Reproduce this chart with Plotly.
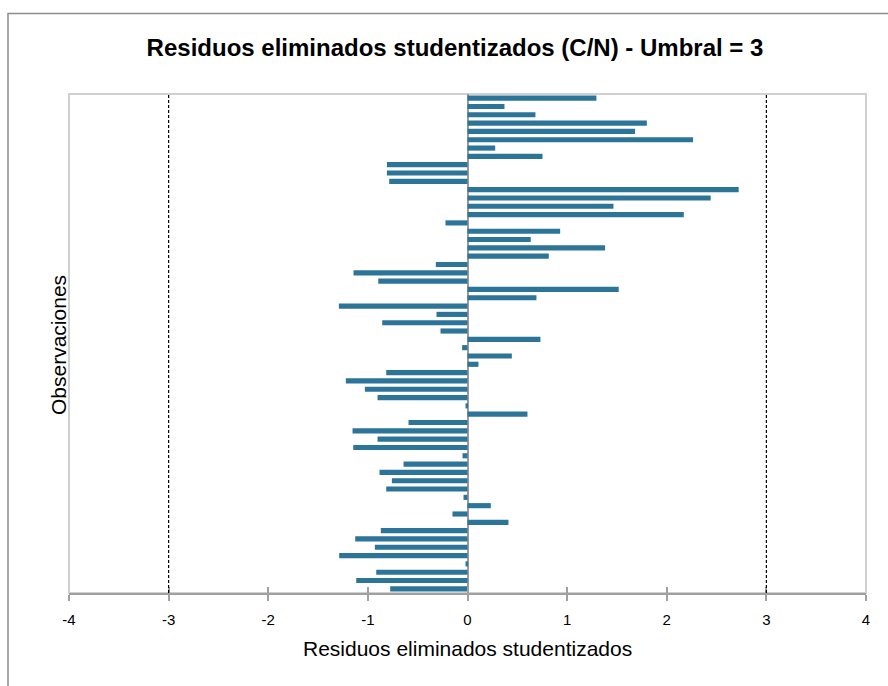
import plotly.graph_objects as go

# Studentized deleted residuals, observations in order top -> bottom
residuals = [
    1.294, 0.371, 0.682, 1.800, 1.682, 2.264, 0.278, 0.753, -0.809, -0.809,
    -0.786, 2.722, 2.441, 1.465, 2.171, -0.221, 0.930, 0.635, 1.381, 0.816,
    -0.318, -1.144, -0.896, 1.518, 0.692, -1.291, -0.311, -0.856, -0.271, 0.732,
    -0.054, 0.445, 0.110, -0.816, -1.221, -1.030, -0.903, -0.020, 0.602, -0.592,
    -1.154, -0.903, -1.147, -0.050, -0.642, -0.883, -0.759, -0.816, -0.040, 0.234,
    -0.151, 0.411, -0.870, -1.127, -0.930, -1.288, -0.020, -0.916, -1.117, -0.776,
]
observations = [f"Obs{i + 1}" for i in range(len(residuals))]
threshold = 3
x_ticks = [-4, -3, -2, -1, 0, 1, 2, 3, 4]

BAR_COLOR = "#2d7598"
FONT = "Liberation Sans, Arial"

W, H = 888, 686
L, R, T, B = 69, 22, 94, 93
PW, PH = W - L - R, H - T - B


def px_x(x):
    return (x - L) / PW


def px_y(y):
    return (H - B - y) / PH


fig = go.Figure()
fig.add_trace(go.Bar(
    x=residuals, y=observations, orientation="h",
    marker=dict(color=BAR_COLOR, line=dict(width=0)),
    hoverinfo="x+y", showlegend=False,
))
# invisible helper trace on overlay axis (for crossing tick marks)
fig.add_trace(go.Scatter(x=[x_ticks[0]], y=[observations[0]], xaxis="x2",
                         mode="markers", marker=dict(opacity=0), showlegend=False,
                         hoverinfo="skip"))

fig.update_layout(
    width=W, height=H,
    margin=dict(l=L, r=R, t=T, b=B, autoexpand=False),
    paper_bgcolor="white", plot_bgcolor="white",
    bargap=0.38,
    title=dict(
        text="<b>Residuos eliminados studentizados (C/N) - Umbral = 3</b>",
        x=455 / W, xanchor="center", y=1 - 48 / H, yanchor="middle",
        xref="container", yref="container",
        font=dict(family=FONT, size=24, color="#000"),
    ),
    xaxis=dict(
        range=[-4, 4], tickvals=x_ticks, ticktext=[str(v) for v in x_ticks],
        showgrid=False, zeroline=True, zerolinecolor="#9a9a9a", zerolinewidth=2,
        showline=True, linecolor="#a0a0a0", linewidth=2,
        ticks="outside", ticklen=6, tickcolor="#a0a0a0", tickwidth=1.5,
        ticklabelstandoff=6,
        tickfont=dict(family=FONT, size=15, color="#000"),
        automargin=False, fixedrange=True,
    ),
    xaxis2=dict(
        range=[-4, 4], tickvals=x_ticks, overlaying="x", side="bottom",
        showticklabels=False, showgrid=False, zeroline=False, showline=False,
        ticks="inside", ticklen=6, tickcolor="#a0a0a0", tickwidth=1.5,
        anchor="y", automargin=False,
    ),
    yaxis=dict(
        categoryorder="array", categoryarray=observations,
        range=[len(observations) - 0.5, -0.5], showticklabels=False, ticks="",
        showgrid=False, zeroline=False, showline=False,
        automargin=False, fixedrange=True,
    ),
    annotations=[
        dict(text="Residuos eliminados studentizados", xref="paper", yref="paper",
             x=px_x(467), y=px_y(648), xanchor="center", yanchor="middle",
             showarrow=False, font=dict(family=FONT, size=21, color="#000")),
        dict(text="Observaciones", xref="paper", yref="paper",
             x=px_x(58), y=px_y(345), xanchor="center", yanchor="middle",
             textangle=-90, showarrow=False,
             font=dict(family=FONT, size=21, color="#000")),
    ],
    shapes=[
        # plot area border (light)
        dict(type="rect", xref="paper", yref="paper", x0=0, x1=1, y0=0, y1=1,
             line=dict(color="#d0d0d0", width=2), layer="below"),
        # threshold lines
        dict(type="line", xref="x", yref="paper", x0=-threshold, x1=-threshold, y0=0, y1=1,
             line=dict(color="#000", width=1.2, dash="3px,2px")),
        dict(type="line", xref="x", yref="paper", x0=threshold, x1=threshold, y0=0, y1=1,
             line=dict(color="#000", width=1.2, dash="3px,2px")),
        # outer chart border
        dict(type="rect", xref="paper", yref="paper",
             x0=px_x(8), x1=px_x(892), y0=px_y(690), y1=px_y(13.5),
             line=dict(color="#8c8c8c", width=1.5), layer="below"),
    ],
)

fig.write_html("out.html", config={"displayModeBar": False},
               post_script="document.body.style.margin='0px';")
